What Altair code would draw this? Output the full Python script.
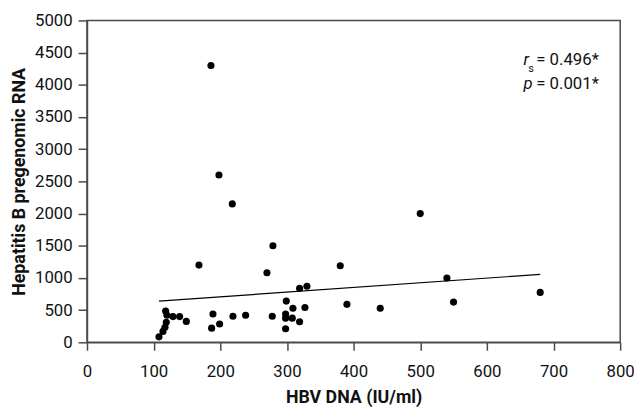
import altair as alt
import pandas as pd

hbv_dna = [186, 198, 218, 279, 168, 270, 380, 500, 540, 319, 330, 390, 299, 309,
           327, 298, 298, 308, 319, 298, 278, 238, 219, 189, 187, 199, 149, 139,
           129, 118, 120, 119, 117, 114, 108, 440, 550, 680]
pg_rna = [4300, 2600, 2150, 1500, 1200, 1080, 1190, 2000, 1000, 840, 870, 590, 640, 530,
          540, 440, 375, 375, 320, 210, 405, 420, 405, 440, 220, 285, 325, 400,
          400, 485, 420, 310, 235, 170, 85, 530, 625, 775]

fit_x = [108, 680]
fit_y = [640, 1055]

x_ticks = [0, 100, 200, 300, 400, 500, 600, 700, 800]
y_ticks = [0, 500, 1000, 1500, 2000, 2500, 3000, 3500, 4000, 4500, 5000]

ann_x = [655, 662, 674, 655, 674]
ann_y = [4300, 4205, 4300, 3935, 3935]
ann_text = ["r", "s", "= 0.496*", "p", "= 0.001*"]
ann_size = [17, 11, 17, 17, 17]
ann_style = ["italic", "normal", "normal", "italic", "normal"]

FONT = "Roboto"
AX = "#4a4a4a"

pts = pd.DataFrame({"x": hbv_dna, "y": pg_rna})
fit = pd.DataFrame({"x": fit_x, "y": fit_y})
ann = pd.DataFrame({"x": ann_x, "y": ann_y, "t": ann_text})

xs = alt.Scale(domain=[0, 800], nice=False, zero=False)
ys = alt.Scale(domain=[0, 5000], nice=False, zero=False)

xaxis = alt.Axis(values=x_ticks, format="d", title="HBV DNA (IU/ml)", grid=False, tickSize=8,
                 labelPadding=14, titlePadding=9, labelFontSize=17, titleFontSize=18,
                 labelFont=FONT, titleFont=FONT, titleFontWeight="bold",
                 domainColor=AX, tickColor=AX, labelColor="#111", titleColor="#111",
                 labelFlush=False, labelOverlap=False)
yaxis = alt.Axis(values=y_ticks, format="d", title="Hepatitis B pregenomic RNA", grid=False,
                 tickSize=9, labelPadding=6, titlePadding=6, labelFontSize=17, titleFontSize=18,
                 labelFont=FONT, titleFont=FONT, titleFontWeight="bold",
                 domainColor=AX, tickColor=AX, labelColor="#111", titleColor="#111",
                 labelFlush=False, labelOverlap=False)

X = lambda: alt.X("x:Q", scale=xs, axis=xaxis)
Y = lambda: alt.Y("y:Q", scale=ys, axis=yaxis)

points = alt.Chart(pts).mark_circle(size=52, color="black", opacity=1).encode(x=X(), y=Y())

line = alt.Chart(fit).mark_line(color="black", strokeWidth=1.2).encode(x=X(), y=Y())

texts = []
for i in range(len(ann_text)):
    texts.append(alt.Chart(ann.iloc[[i]]).mark_text(
        align="left", baseline="alphabetic", font=FONT, color="#111",
        fontSize=ann_size[i], fontStyle=ann_style[i]).encode(x=X(), y=Y(), text="t:N"))

chart = alt.layer(points, line, *texts).properties(
    width=540, height=326,
    autosize=alt.AutoSizeParams(type="none"),
    padding={"left": 80, "top": 10, "right": 14, "bottom": 70},
).configure_view(stroke=AX, strokeWidth=1.5).configure_axis(domainWidth=1.5, tickWidth=1.5)

chart.save("out.html", embed_options={"renderer": "svg", "actions": False})
